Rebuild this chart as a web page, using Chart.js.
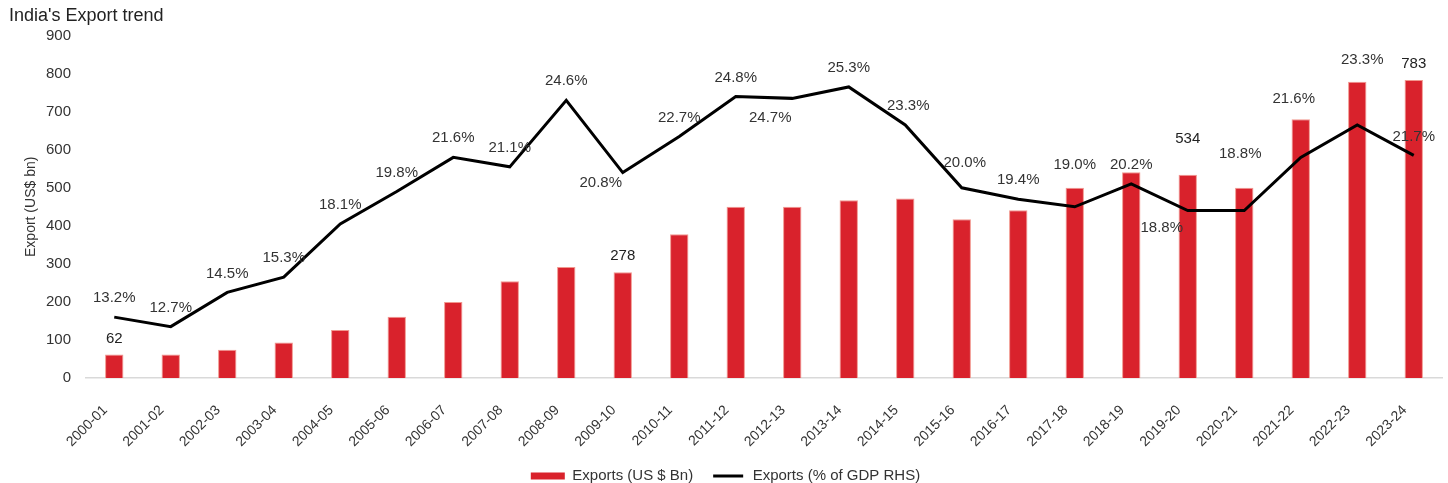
<!DOCTYPE html>
<html>
<head>
<meta charset="utf-8">
<title>India's Export trend</title>
<script src="https://cdn.jsdelivr.net/npm/chart.js@4.4.1/dist/chart.umd.min.js"></script>
<style>
  html, body { margin: 0; padding: 0; background: #fff; }
  #wrap { width: 1448px; height: 483px; position: relative; }
</style>
</head>
<body>
<div id="wrap"><canvas id="exportChart"></canvas></div>
<script>
const years = ["2000-01", "2001-02", "2002-03", "2003-04", "2004-05", "2005-06", "2006-07", "2007-08",
    "2008-09", "2009-10", "2010-11", "2011-12", "2012-13", "2013-14", "2014-15", "2015-16",
    "2016-17", "2017-18", "2018-19", "2019-20", "2020-21", "2021-22", "2022-23", "2023-24"];

const exportsBn = [62, 62, 74, 93, 126, 161, 200, 254, 292, 278, 378, 450,
    450, 467, 472, 417, 441, 500, 541, 534, 500, 680, 779, 783];

const exportsGdpPct = [13.2, 12.7, 14.5, 15.3, 18.1, 19.8, 21.6, 21.1, 24.6, 20.8, 22.7, 24.8,
    24.7, 25.3, 23.3, 20.0, 19.4, 19.0, 20.2, 18.8, 18.8, 21.6, 23.3, 21.7];

// only these bars carry a value label in the original
const labelledBars = [0, 9, 19, 23];

const yTicks = [0, 100, 200, 300, 400, 500, 600, 700, 800, 900];

// label nudges (px) so the % labels don't sit on top of bars / line
const pctLabelShift = {
    9: [-22, 10], 12: [-22, 19], 14: [3, -19], 15: [3, -25], 17: [0, -42],
    19: [-26, 17], 20: [-4, -57], 21: [-7, -58], 22: [5, -65]
};
const barLabelShift = { 19: -36 };

const FONT = "'Liberation Sans', Arial, Helvetica, sans-serif";
const RED = "#D9222C";

const valueLabels = {
    id: "valueLabels",
    afterDatasetsDraw(chart) {
        const ctx = chart.ctx;
        ctx.save();
        ctx.font = "15px " + FONT;
        ctx.textAlign = "center";
        ctx.textBaseline = "middle";

        const barMeta = chart.getDatasetMeta(0);
        ctx.fillStyle = "#222";
        labelledBars.forEach(i => {
            const el = barMeta.data[i];
            const dy = barLabelShift[i] !== undefined ? barLabelShift[i] : -16;
            ctx.fillText(exportsBn[i], el.x, el.y + dy);
        });

        const lineMeta = chart.getDatasetMeta(1);
        ctx.fillStyle = "#333";
        lineMeta.data.forEach((pt, i) => {
            const s = pctLabelShift[i] || [0, -19];
            ctx.fillText(exportsGdpPct[i].toFixed(1) + "%", pt.x + s[0], pt.y + s[1]);
        });
        ctx.restore();
    }
};

const ctx = document.getElementById("exportChart").getContext("2d");

new Chart(ctx, {
    type: "bar",
    data: {
        labels: years,
        datasets: [{
            type: "bar",
            label: "Exports (US $ Bn)",
            data: exportsBn,
            backgroundColor: RED,
            borderColor: "rgba(240,140,130,0.9)",
            borderWidth: 1,
            categoryPercentage: 1,
            barPercentage: 0.325,
            yAxisID: "y",
            order: 2
        }, {
            type: "line",
            label: "Exports (% of GDP RHS)",
            data: exportsGdpPct,
            borderColor: "#000",
            backgroundColor: "#000",
            borderWidth: 3,
            pointRadius: 0,
            tension: 0,
            yAxisID: "y1",
            order: 1
        }]
    },
    options: {
        responsive: true,
        maintainAspectRatio: false,
        animation: false,
        layout: { padding: { left: 9, right: 6, top: 0, bottom: -10.5 } },
        plugins: {
            title: {
                display: true,
                text: "India's Export trend",
                align: "start",
                color: "#222",
                font: { family: FONT, size: 18, weight: "normal" },
                padding: { top: 5, bottom: 9 }
            },
            legend: {
                position: "bottom",
                labels: {
                    color: "#333",
                    font: { family: FONT, size: 15 },
                    boxWidth: 34,
                    boxHeight: 7,
                    padding: 18,
                    generateLabels(chart) {
                        return chart.data.datasets.map((ds, i) => ({
                            text: ds.label,
                            datasetIndex: i,
                            fillStyle: i === 0 ? RED : "#000",
                            strokeStyle: i === 0 ? RED : "#fff",
                            lineWidth: i === 0 ? 0 : 4,
                            fontColor: "#333",
                            hidden: false
                        }));
                    }
                }
            },
            tooltip: { enabled: false }
        },
        scales: {
            x: {
                grid: { display: false },
                border: { display: true, color: "#d9d9d9", width: 1.5 },
                afterFit(scale) { scale.height = 72.5; },
                ticks: {
                    color: "#333",
                    font: { family: FONT, size: 14 },
                    minRotation: 45,
                    maxRotation: 45,
                    padding: 16,
                    labelOffset: -9,
                    autoSkip: false
                }
            },
            y: {
                min: 0,
                max: 900,
                grid: { display: false },
                border: { display: false },
                afterFit(scale) { scale.width = 77; },
                afterBuildTicks(scale) {
                    scale.ticks = yTicks.map(v => ({ value: v }));
                },
                ticks: {
                    color: "#333",
                    font: { family: FONT, size: 15 },
                    padding: 7
                },
                title: {
                    display: true,
                    text: "Export (US$ bn)",
                    color: "#333",
                    font: { family: FONT, size: 14 },
                    padding: { top: 14, bottom: 14 }
                }
            },
            y1: {
                display: false,
                position: "right",
                min: 10,
                max: 28
            }
        }
    },
    plugins: [valueLabels]
});
</script>
</body>
</html>
